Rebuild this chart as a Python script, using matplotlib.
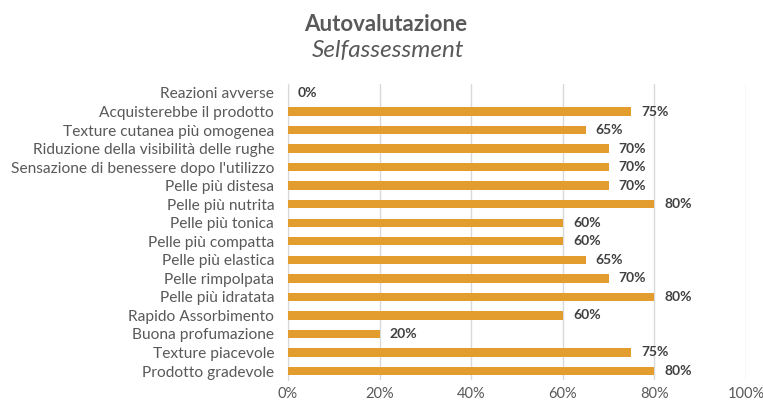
import matplotlib
matplotlib.use("Agg")
import matplotlib.pyplot as plt
from matplotlib.ticker import PercentFormatter

categories = [
    "Reazioni avverse",
    "Acquisterebbe il prodotto",
    "Texture cutanea più omogenea",
    "Riduzione della visibilità delle rughe",
    "Sensazione di benessere dopo l'utilizzo",
    "Pelle più distesa",
    "Pelle più nutrita",
    "Pelle più tonica",
    "Pelle più compatta",
    "Pelle più elastica",
    "Pelle rimpolpata",
    "Pelle più idratata",
    "Rapido Assorbimento",
    "Buona profumazione",
    "Texture piacevole",
    "Prodotto gradevole",
]
values = [0, 75, 65, 70, 70, 70, 80, 60, 60, 65, 70, 80, 60, 20, 75, 80]
x_ticks = [0, 20, 40, 60, 80, 100]

bar_color = "#E39C2E"
text_gray = "#595959"

plt.rcParams["font.family"] = ["Lato", "DejaVu Sans"]

fig = plt.figure(figsize=(7.63, 4.05), dpi=100)
ax = fig.add_axes([0.3775, 0.061, 0.6002, 0.7323])

y = list(range(len(categories)))
ax.barh(y, values, height=0.45, color=bar_color, zorder=3)
for yi, v in zip(y, values):
    ax.text(v + 2.2, yi, f"{v}%", va="center", ha="left",
            fontsize=10, fontweight="bold", color="#404040", zorder=4)

ax.set_ylim(len(categories) - 0.5, -0.5)
ax.set_xlim(0, 100)
ax.set_yticks(y)
ax.set_yticklabels(categories, fontsize=11.2, color=text_gray)
ax.set_xticks(x_ticks)
ax.xaxis.set_major_formatter(PercentFormatter(decimals=0))
ax.tick_params(axis="x", labelsize=10.5, colors=text_gray, length=0, pad=5)
ax.tick_params(axis="y", length=0, pad=10)
ax.grid(axis="x", color="#D9D9D9", linewidth=1, zorder=0)
for side in ["top", "right", "bottom"]:
    ax.spines[side].set_visible(False)
ax.spines["left"].set_color("#D9D9D9")

fig.text(0.505, 0.94, "Autovalutazione", ha="center", va="center",
         fontsize=16, fontweight="bold", color=text_gray)
fig.text(0.509, 0.875, "Selfassessment", ha="center", va="center",
         fontsize=17.5, style="italic", color=text_gray)

fig.savefig("out.png", dpi=100)
